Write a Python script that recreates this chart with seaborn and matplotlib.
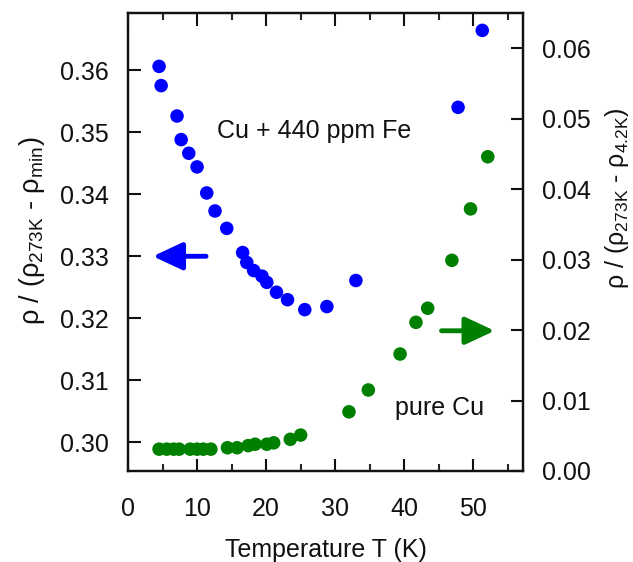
import matplotlib
matplotlib.use("Agg")
import matplotlib.pyplot as plt
from matplotlib.ticker import MultipleLocator
import seaborn as sns
import pandas as pd

# Cu + 440 ppm Fe (left axis)
fe_T = [4.5, 4.8, 7.1, 7.7, 8.8, 10.0, 11.4, 12.6, 14.3, 16.6, 17.2, 18.2,
        19.4, 20.1, 21.5, 23.1, 25.6, 28.8, 33.0, 47.8, 51.3]
fe_rho = [0.3606, 0.3575, 0.3526, 0.3488, 0.3466, 0.3444, 0.3402, 0.3373,
          0.3345, 0.3306, 0.3290, 0.3277, 0.3268, 0.3258, 0.3242, 0.3230,
          0.3214, 0.3219, 0.3261, 0.3540, 0.3664]

# pure Cu (right axis)
cu_T = [4.5, 5.6, 6.6, 7.4, 9.0, 10.0, 10.9, 12.0, 14.4, 15.8, 17.4, 18.4,
        20.1, 21.1, 23.5, 25.0, 32.0, 34.8, 39.4, 41.7, 43.4, 46.9, 49.6, 52.1]
cu_rho = [0.0031, 0.0031, 0.0031, 0.0031, 0.0031, 0.0031, 0.0031, 0.0031,
          0.0033, 0.0033, 0.0036, 0.0038, 0.0038, 0.0040, 0.0045, 0.0051,
          0.0084, 0.0115, 0.0166, 0.0211, 0.0231, 0.0299, 0.0372, 0.0446]

x_ticks = [0, 10, 20, 30, 40, 50]
left_ticks = [0.30, 0.31, 0.32, 0.33, 0.34, 0.35, 0.36]
right_ticks = [0.00, 0.01, 0.02, 0.03, 0.04, 0.05, 0.06]

BLUE = "#0000ff"
GREEN = "#008000"
INK = "#111111"

sns.set_theme(style="ticks")
plt.rcParams["font.family"] = ["Liberation Sans", "DejaVu Sans"]
plt.rcParams["mathtext.fontset"] = "custom"
plt.rcParams["mathtext.rm"] = "Liberation Sans"
plt.rcParams["mathtext.it"] = "Liberation Sans:italic"
plt.rcParams["text.color"] = INK
plt.rcParams["axes.labelcolor"] = INK
FS = 18

fe = pd.DataFrame({"T": fe_T, "rho": fe_rho})
cu = pd.DataFrame({"T": cu_T, "rho": cu_rho})

fig = plt.figure(figsize=(6.33, 5.62), dpi=100)
ax = fig.add_axes([128 / 633, 91 / 562, 395 / 633, 458 / 562])
ax2 = ax.twinx()

sns.scatterplot(data=fe, x="T", y="rho", ax=ax, color=BLUE, s=95,
                edgecolor="none", zorder=3)
sns.scatterplot(data=cu, x="T", y="rho", ax=ax2, color=GREEN, s=95,
                edgecolor="none", zorder=3)

ax.set_xlim(0, 57.2)
ax.set_ylim(0.2954, 0.3692)
ax2.set_ylim(0.0, 0.065)

ax.set_xticks(x_ticks)
ax.xaxis.set_minor_locator(MultipleLocator(5))
ax.set_yticks(left_ticks)
ax.set_yticklabels([f"{v:.2f}" for v in left_ticks])
ax2.set_yticks(right_ticks)
ax2.set_yticklabels([f"{v:.2f}" for v in right_ticks])

for a in (ax, ax2):
    for sp in a.spines.values():
        sp.set_linewidth(1.6)
        sp.set_color(INK)
        sp.set_visible(True)

ax.tick_params(axis="x", which="major", direction="in", length=9, width=1.5,
               top=True, labelsize=FS, pad=19, colors=INK)
ax.tick_params(axis="x", which="minor", direction="in", length=5, width=1.5,
               top=True)
ax.tick_params(axis="y", which="major", direction="in", length=9, width=1.5,
               labelsize=FS, pad=14, colors=INK)
ax2.tick_params(axis="y", which="major", direction="in", length=9, width=1.5,
                labelsize=FS, pad=14, colors=INK)

ax.set_xlabel("Temperature T (K)", fontsize=FS, labelpad=12)
ax.set_ylabel(r"ρ / (ρ$_{\mathrm{273K}}$ - ρ$_{\mathrm{min}}$)", fontsize=19.5)
ax2.set_ylabel(r"ρ / (ρ$_{\mathrm{273K}}$ - ρ$_{\mathrm{4.2K}}$)",
               fontsize=18, rotation=90)
for lab in (ax.yaxis.label, ax2.yaxis.label):
    lab.set_ha("center")
    lab.set_va("center")
ax.yaxis.set_label_coords(-0.243, 0.524)
ax2.yaxis.set_label_coords(1.238, 0.596)

# direction arrows pointing to each series' axis
arrow_style = "-|>,head_length=1.5,head_width=0.7"
ax.annotate("", xy=(3.6, 0.33), xytext=(11.3, 0.33),
            arrowprops=dict(arrowstyle=arrow_style, color=BLUE, lw=3.5,
                            shrinkA=0, shrinkB=0))
ax2.annotate("", xy=(53.1, 0.0199), xytext=(45.4, 0.0199),
             arrowprops=dict(arrowstyle=arrow_style, color=GREEN, lw=3.5,
                             shrinkA=0, shrinkB=0))

ax.text(27.0, 0.3491, "Cu + 440 ppm Fe", fontsize=FS, ha="center",
        va="baseline")
ax2.text(45.1, 0.0080, "pure Cu", fontsize=FS, ha="center", va="baseline")

ax.set_zorder(ax2.get_zorder() + 1)
ax.patch.set_visible(False)

fig.savefig("out.png", dpi=100, facecolor="white")
